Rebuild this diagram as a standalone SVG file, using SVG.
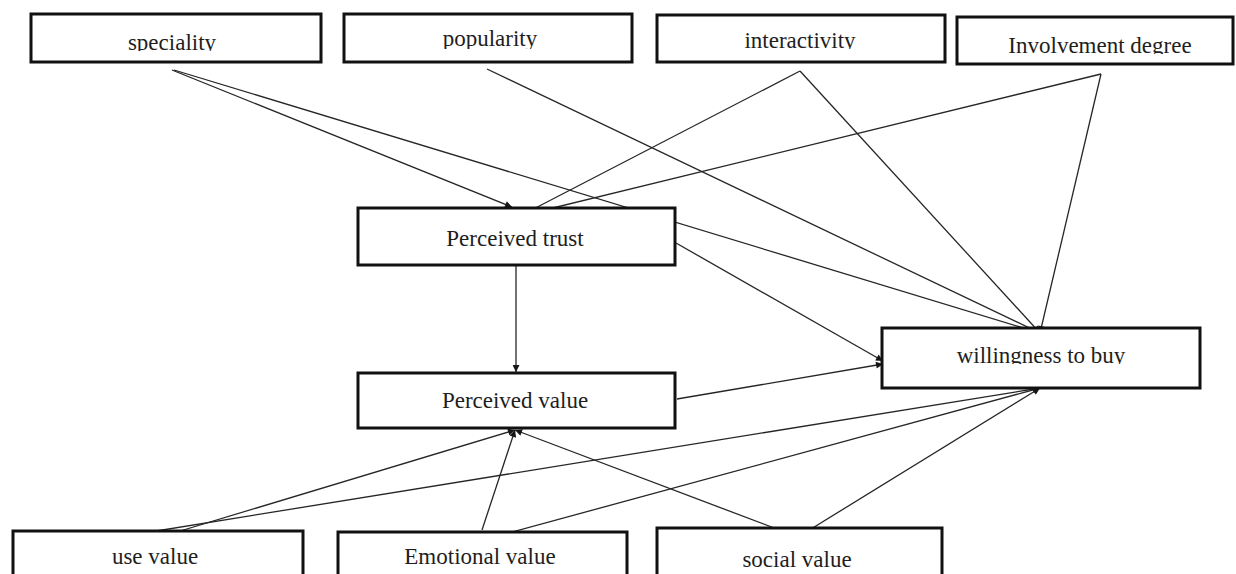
<svg xmlns="http://www.w3.org/2000/svg" width="1236" height="574" viewBox="0 0 1236 574">
  <defs>
    <style>
      .box { fill: #ffffff; stroke: #111111; stroke-width: 3; }
      .lbl { font-family: "Liberation Serif", "Times New Roman", serif; font-size: 23px; fill: #1e1e1e; text-anchor: middle; }
      .edge { fill: none; stroke: #262626; stroke-width: 1.3; }
    </style>
    <marker id="arrow" viewBox="0 0 10 10" refX="10" refY="5" markerWidth="9" markerHeight="7" markerUnits="userSpaceOnUse" orient="auto">
      <path d="M0,0 L10,5 L0,10 z" fill="#161616"/>
    </marker>
    <!-- labels are trimmed just under the baseline -->
    <clipPath id="cut-speciality"><rect x="0" y="0" width="1236" height="51"/></clipPath>
    <clipPath id="cut-popularity"><rect x="0" y="0" width="1236" height="49"/></clipPath>
    <clipPath id="cut-interactivity"><rect x="0" y="0" width="1236" height="49"/></clipPath>
    <clipPath id="cut-involvement"><rect x="0" y="0" width="1236" height="54"/></clipPath>
    <clipPath id="cut-willingness"><rect x="0" y="0" width="1236" height="364"/></clipPath>
  </defs>

  <rect width="1236" height="574" fill="#ffffff"/>

  <!-- connectors -->
  <g id="connectors">
    <!-- speciality -->
    <line class="edge" x1="172" y1="70" x2="512" y2="207" marker-end="url(#arrow)"/>
    <line class="edge" x1="174" y1="70" x2="1040" y2="333" marker-end="url(#arrow)"/>
    <!-- popularity -->
    <line class="edge" x1="487" y1="69" x2="1040" y2="333" marker-end="url(#arrow)"/>
    <!-- interactivity -->
    <line class="edge" x1="800" y1="71" x2="520" y2="216" marker-end="url(#arrow)"/>
    <line class="edge" x1="800" y1="71" x2="1040" y2="333" marker-end="url(#arrow)"/>
    <!-- involvement degree -->
    <line class="edge" x1="1101" y1="74" x2="520" y2="216" marker-end="url(#arrow)"/>
    <line class="edge" x1="1101" y1="74" x2="1040" y2="333" marker-end="url(#arrow)"/>
    <!-- perceived trust -->
    <line class="edge" x1="516" y1="266" x2="516" y2="372" marker-end="url(#arrow)"/>
    <line class="edge" x1="676" y1="243" x2="883" y2="361" marker-end="url(#arrow)"/>
    <!-- perceived value -->
    <line class="edge" x1="677" y1="399" x2="883" y2="364" marker-end="url(#arrow)"/>
    <!-- use value -->
    <line class="edge" x1="157" y1="538" x2="515" y2="430" marker-end="url(#arrow)"/>
    <line class="edge" x1="150" y1="532" x2="1040" y2="388" marker-end="url(#arrow)"/>
    <!-- emotional value -->
    <line class="edge" x1="482" y1="530" x2="515" y2="430" marker-end="url(#arrow)"/>
    <line class="edge" x1="483" y1="540" x2="1040" y2="388" marker-end="url(#arrow)"/>
    <!-- social value -->
    <line class="edge" x1="798" y1="537" x2="515" y2="430" marker-end="url(#arrow)"/>
    <line class="edge" x1="798" y1="537" x2="1040" y2="388" marker-end="url(#arrow)"/>
  </g>

  <!-- nodes -->
  <g id="speciality">
    <rect class="box" x="31" y="14" width="290" height="48"/>
    <text class="lbl" x="172" y="50" clip-path="url(#cut-speciality)">speciality</text>
  </g>
  <g id="popularity">
    <rect class="box" x="344" y="14" width="288" height="48"/>
    <text class="lbl" x="490" y="46" clip-path="url(#cut-popularity)">popularity</text>
  </g>
  <g id="interactivity">
    <rect class="box" x="657" y="15" width="288" height="47"/>
    <text class="lbl" x="800" y="48" clip-path="url(#cut-interactivity)">interactivity</text>
  </g>
  <g id="involvement-degree">
    <rect class="box" x="957" y="17" width="276" height="47"/>
    <text class="lbl" x="1100" y="53" clip-path="url(#cut-involvement)">Involvement degree</text>
  </g>
  <g id="perceived-trust">
    <rect class="box" x="358" y="208" width="317" height="57"/>
    <text class="lbl" x="515" y="246">Perceived trust</text>
  </g>
  <g id="perceived-value">
    <rect class="box" x="358" y="373" width="317" height="55"/>
    <text class="lbl" x="515" y="408">Perceived value</text>
  </g>
  <g id="willingness-to-buy">
    <rect class="box" x="882" y="328" width="318" height="60"/>
    <text class="lbl" x="1041" y="363" clip-path="url(#cut-willingness)">willingness to buy</text>
  </g>
  <g id="use-value">
    <rect class="box" x="13" y="531" width="290" height="60"/>
    <text class="lbl" x="155" y="564">use value</text>
  </g>
  <g id="emotional-value">
    <rect class="box" x="338" y="532" width="289" height="60"/>
    <text class="lbl" x="480" y="564">Emotional value</text>
  </g>
  <g id="social-value">
    <rect class="box" x="657" y="528" width="285" height="60"/>
    <text class="lbl" x="797" y="567">social value</text>
  </g>
</svg>
